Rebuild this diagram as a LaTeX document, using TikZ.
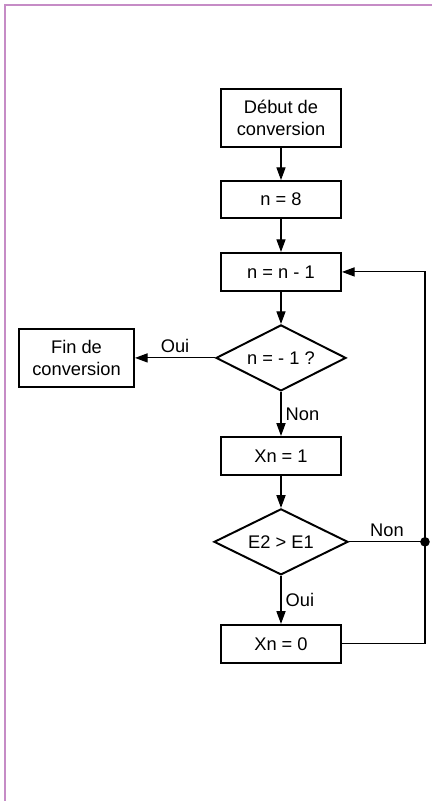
\documentclass[tikz,border=0pt]{standalone}
\usepackage{fontspec}
\setmainfont{Liberation Sans}
\usetikzlibrary{positioning, arrows.meta, shapes.geometric}
\tikzset{
  procbox/.style={rectangle, draw=black, line width=1.4pt,
                  minimum width=3cm, minimum height=0.95cm,
                  align=center, font=\fontsize{13}{15.5}\selectfont},
  testbox/.style={diamond, draw=black, line width=1.4pt, aspect=2,
                  inner sep=0pt, minimum width=3.25cm, minimum height=1.65cm,
                  align=center, font=\fontsize{13}{15.5}\selectfont},
  lbl/.style={font=\fontsize{13}{15.5}\selectfont, inner sep=3pt},
  myarr/.style={-{Triangle[length=9pt, width=6.5pt]}, line width=0.75pt},
  myline/.style={line width=0.75pt},
  jdot/.style={circle, fill=black, inner sep=0pt, minimum size=0.24cm},
}
\begin{document}
\begin{tikzpicture}

  %% Frame and bounding box
  \useasboundingbox (0,0) rectangle (10.8,-20.025);
  \draw[violet!45, line width=1pt] (0.125,-20.025) -- (0.125,-0.125) -- (10.8,-0.125);

  %% Main column
  \node[procbox, minimum height=1.45cm] (debut) at (7.025,-2.95)
    {Début de\\conversion};
  \node[procbox, minimum height=0.925cm, below=0.8cm of debut] (init) {n = 8};
  \node[procbox, below=0.825cm of init] (decr) {n = n - 1};
  \node[testbox, below=0.8cm of decr] (testn) {n = - 1 ?};
  \node[procbox, minimum width=2.875cm, minimum height=1.45cm,
        left=2cm of testn] (fin) {Fin de\\conversion};
  \node[procbox, minimum height=0.95cm, below=1.1cm of testn] (setone) {Xn = 1};
  \node[testbox, minimum width=3.35cm, below=0.8cm of setone] (comp) {E2 > E1};
  \node[procbox, below=1.2cm of comp] (setzero) {Xn = 0};

  %% Junction point of the loop
  \path (comp.east) ++(1.9cm,0) node[jdot] (jn) {};

  %% Arrows
  \draw[myarr] (debut) -- (init);
  \draw[myarr] (init)  -- (decr);
  \draw[myarr] (decr)  -- (testn);
  \draw[myarr] (testn.west) -- node[lbl, above] {Oui} (fin.east);
  \draw[myarr] (testn.south) -- node[lbl, right] {Non} (setone.north);
  \draw[myarr] (setone) -- (comp);
  \draw[myarr] (comp.south) -- node[lbl, right] {Oui} (setzero.north);
  \draw[myline] (comp.east) -- node[lbl, above] {Non} (jn.center);
  \draw[myarr] (setzero.east) -| (jn.center) |- (decr.east);

\end{tikzpicture}
\end{document}
